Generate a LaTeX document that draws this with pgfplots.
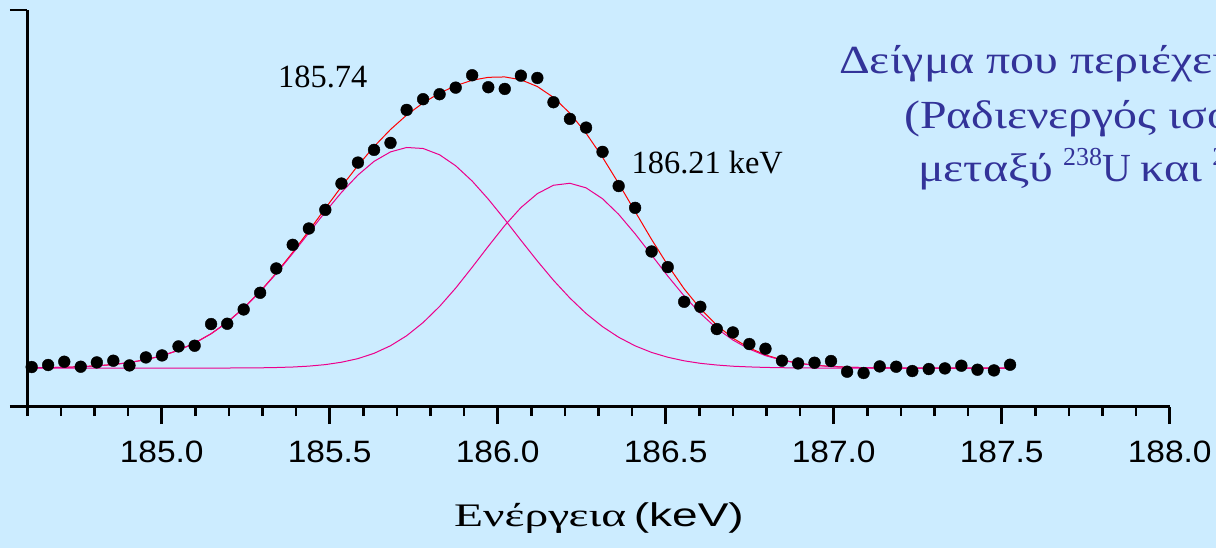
\documentclass[border=0pt]{standalone}
\usepackage{pgfplots}
\pgfplotsset{compat=1.18}
\usepackage{graphicx}
\usepackage{fontspec}
\setmainfont{Liberation Serif}
\newfontfamily\ticksans[FakeStretch=1.085]{Liberation Sans}
\newfontfamily\labsans{Liberation Sans}
\definecolor{bg}{RGB}{204,236,255}
\definecolor{txtblue}{RGB}{51,51,153}
\newcommand\gs[1]{\scalebox{1.2}[1]{#1}}
\newcommand\sups[1]{\raisebox{16bp}{\fontsize{26}{26}\selectfont #1}}

\pgfplotstableread{
x y
184.613 39.7
184.662 41.7
184.710 45.0
184.759 40.0
184.807 44.3
184.856 46.0
184.904 41.3
184.953 49.3
185.001 51.3
185.050 60.3
185.098 61.0
185.147 82.7
185.195 83.0
185.244 97.3
185.293 114.0
185.341 138.3
185.390 162.0
185.438 178.3
185.487 197.0
185.535 223.3
185.584 244.3
185.632 257.0
185.681 264.0
185.729 297.0
185.778 307.7
185.827 312.7
185.875 319.3
185.924 331.7
185.972 319.7
186.021 318.0
186.069 331.3
186.118 329.0
186.166 304.7
186.215 288.0
186.263 279.3
186.312 255.0
186.360 220.8
186.409 199.0
186.458 155.3
186.506 139.7
186.555 105.0
186.603 100.0
186.652 77.7
186.700 74.3
186.749 62.7
186.797 58.0
186.846 46.0
186.894 43.3
186.943 44.0
186.992 45.7
187.040 35.0
187.089 33.7
187.137 40.3
187.186 40.0
187.234 35.7
187.283 37.7
187.331 38.3
187.380 41.0
187.428 37.0
187.477 36.3
187.525 42.0
}\datatable

\pgfplotstableread{
x fit c1 c2
184.613 38.9 38.9 38.6
184.662 39.1 39.1 38.6
184.710 39.4 39.4 38.6
184.759 40.0 40.0 38.6
184.807 40.9 40.9 38.6
184.856 42.2 42.2 38.6
184.904 44.2 44.2 38.6
184.953 47.1 47.1 38.6
185.001 51.0 51.0 38.6
185.050 56.5 56.5 38.6
185.098 63.7 63.6 38.6
185.147 73.0 73.0 38.6
185.195 84.5 84.4 38.7
185.244 98.7 98.5 38.8
185.293 115.3 115.0 38.9
185.341 133.8 133.2 39.2
185.390 154.5 153.4 39.7
185.438 176.0 174.0 40.6
185.487 198.5 195.0 42.1
185.535 220.2 214.4 44.5
185.584 241.3 231.8 48.1
185.632 260.3 245.5 53.4
185.681 277.4 255.0 61.0
185.729 291.8 259.4 71.0
185.778 304.0 258.4 84.2
185.827 313.8 252.1 100.3
185.875 321.2 241.1 118.7
185.924 326.7 225.8 139.5
185.972 329.6 207.7 160.5
186.021 330.0 187.4 181.3
186.069 327.2 166.6 199.2
186.118 320.4 145.8 213.2
186.166 309.5 126.5 221.6
186.215 293.7 108.7 223.6
186.263 273.7 93.3 219.0
186.312 249.6 80.1 208.1
186.360 223.4 69.5 192.5
186.409 195.3 60.9 173.0
186.458 167.4 54.3 151.8
186.506 141.7 49.5 130.8
186.555 117.9 45.9 110.8
186.603 98.2 43.4 93.4
186.652 81.5 41.7 78.4
186.700 68.6 40.5 66.7
186.749 58.8 39.8 57.6
186.797 51.8 39.3 51.1
186.846 46.9 39.0 46.5
186.894 43.6 38.8 43.4
186.943 41.5 38.7 41.4
186.992 40.3 38.6 40.2
187.040 39.5 38.6 39.5
187.089 39.1 38.6 39.1
187.137 38.8 38.6 38.8
187.186 38.7 38.6 38.7
187.234 38.6 38.6 38.6
187.283 38.6 38.6 38.6
187.331 38.6 38.6 38.6
187.380 38.6 38.6 38.6
187.428 38.6 38.6 38.6
187.477 38.6 38.6 38.6
187.525 38.6 38.6 38.6
}\fittable

\begin{document}
\begin{tikzpicture}[x=1bp,y=1bp]
\clip (0,0) rectangle (1216,548);
\fill[bg] (0,0) rectangle (1216,548);
\begin{axis}[
  at={(27.3bp,141.3bp)}, anchor=south west,
  scale only axis, width=1142.4bp, height=396.7bp,
  xmin=184.6, xmax=188.0, ymin=0, ymax=397,
  axis x line*=bottom, axis y line*=left,
  axis line style={line width=2.6bp, black},
  xtick={185,185.5,186,186.5,187,187.5,188},
  xticklabels={185.0,185.5,186.0,186.5,187.0,187.5,188.0},
  minor xtick={184.6,184.7,184.8,184.9,185.1,185.2,185.3,185.4,185.6,185.7,185.8,185.9,186.1,186.2,186.3,186.4,186.6,186.7,186.8,186.9,187.1,187.2,187.3,187.4,187.6,187.7,187.8,187.9},
  ytick={0,397}, yticklabels={,},
  tick align=outside,
  major tick length=17.5bp, minor tick length=9.5bp,
  tick style={line width=2.6bp, black},
  xticklabel style={font=\ticksans\fontsize{31}{31}\selectfont, inner sep=0pt, anchor=north, yshift=-16.5bp, overlay},
  clip=false,
]
\addplot[red, line width=1bp] table[x=x, y=fit] {\fittable};
\addplot[magenta, line width=1bp] table[x=x, y=c1] {\fittable};
\addplot[magenta, line width=1bp] table[x=x, y=c2] {\fittable};
\addplot[only marks, mark=*, mark size=5.9bp, black] table[x=x, y=y] {\datatable};
\end{axis}
\node[anchor=base west, inner sep=0pt, font=\fontsize{32.5}{33}\selectfont] at (278,460.7) {185.74};
\node[anchor=base west, inner sep=0pt, font=\fontsize{32.5}{33}\selectfont] at (631.5,374) {186.21 keV};
\node[overlay, anchor=base west, inner sep=0pt, text=txtblue, font=\fontsize{40}{48}\selectfont] at (839,474.5) {\gs{Δείγμα που περιέχει} \sups{226}Ra};
\node[overlay, anchor=base west, inner sep=0pt, text=txtblue, font=\fontsize{40}{48}\selectfont] at (904,419.7) {\gs{(Ραδιενεργός ισορροπία}};
\node[overlay, anchor=base west, inner sep=0pt, text=txtblue, font=\fontsize{40}{48}\selectfont] at (918,366.3) {\gs{μεταξύ} \sups{238}U \gs{και} \sups{226}Ra)};
\node[anchor=base west, inner sep=0pt, font=\fontsize{33}{40}\selectfont] at (454,21.3) {\resizebox{172bp}{\height}{Ενέργεια}};
\node[anchor=base west, inner sep=0pt, font=\fontsize{33}{40}\selectfont] at (633.6,21.3) {\resizebox{110bp}{\height}{\labsans (keV)}};
\end{tikzpicture}
\end{document}
